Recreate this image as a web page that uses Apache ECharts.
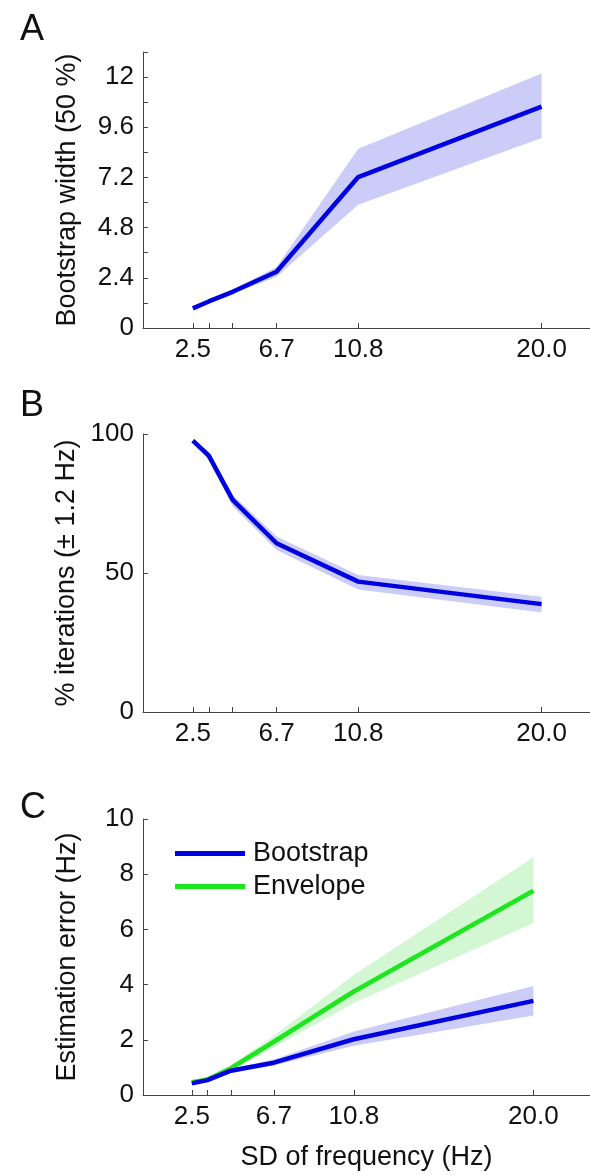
<!DOCTYPE html>
<html>
<head>
<meta charset="utf-8">
<script src="https://cdn.jsdelivr.net/npm/echarts@6/dist/echarts.min.js"></script>
<style>
html,body{margin:0;padding:0;background:#fff;}
#chart{width:590px;height:1175px;}
</style>
</head>
<body>
<div id="chart"></div>
<script>
// ---- data ----
const sdX = [2.5, 3.3, 4.5, 6.7, 10.8, 20.0];
const xTickValues = [2.5, 3.3, 4.5, 6.7, 10.8, 20.0];
const xLabelValues = [2.5, 6.7, 10.8, 20.0];

const yTicksA = [0, 2.4, 4.8, 7.2, 9.6, 12];
const widthMean = [0.94, 1.27, 1.73, 2.69, 7.22, 10.59];
const widthLow  = [0.86, 1.18, 1.63, 2.45, 5.90, 9.09];
const widthHigh = [1.02, 1.36, 1.83, 2.92, 8.57, 12.17];

const itersMean = [97.6, 92.2, 76.3, 60.7, 46.9, 38.8];
const itersLow  = [96.8, 90.8, 73.9, 58.3, 44.1, 35.8];
const itersHigh = [98.4, 93.6, 78.1, 63.1, 49.3, 41.5];

const bootMean = [0.42, 0.54, 0.88, 1.17, 2.02, 3.41];
const bootLow  = [0.36, 0.48, 0.80, 1.07, 1.78, 2.88];
const bootHigh = [0.48, 0.60, 0.96, 1.29, 2.30, 3.95];

const envMean = [0.46, 0.56, 0.97, 1.93, 3.75, 7.40];
const envLow  = [0.42, 0.50, 0.88, 1.72, 3.33, 6.23];
const envHigh = [0.52, 0.62, 1.06, 2.15, 4.35, 8.61];

const BLUE = '#0000e0', BLUE_BAND = '#ccccf8';
const GREEN = '#1ee61e', GREEN_BAND = '#d2f7d2';
const FONT = 'Liberation Sans, Arial, sans-serif';
const AX = '#444';

function pairs(ys){ return sdX.map((x,i)=>[x, ys[i]]); }

function band(idx, lo, hi, color, key){
  return {
    type:'custom', name:key, xAxisIndex:idx, yAxisIndex:idx, silent:true, z:2,
    data: sdX.map((x,i)=>[x, lo[i], hi[i]]),
    encode:{x:0, y:[1,2]},
    renderItem: function(params, api){
      if (params.dataIndex !== 0) return null;
      const pts = [];
      for (let i=0;i<sdX.length;i++) pts.push(api.coord([sdX[i], hi[i]]));
      for (let i=sdX.length-1;i>=0;i--) pts.push(api.coord([sdX[i], lo[i]]));
      return {type:'polygon', shape:{points:pts}, style:{fill:color, stroke:null}};
    }
  };
}
function mainLine(idx, ys, color, name){
  return {type:'line', name:name, xAxisIndex:idx, yAxisIndex:idx, data:pairs(ys), symbol:'none',
          color:color, lineStyle:{color:color, width:4.5}, z:5};
}

function xAxis(idx, max, name){
  return {
    type:'value', gridIndex:idx, min:0, max:max,
    axisLine:{show:true, lineStyle:{color:AX, width:1}},
    axisTick:{show:true, inside:true, length:5, customValues:xTickValues, lineStyle:{color:AX}},
    axisLabel:{customValues:xLabelValues, formatter:v=>v.toFixed(1), fontSize:26, fontFamily:FONT, color:'#111', margin:9},
    splitLine:{show:false},
    name:name||'', nameLocation:'middle', nameGap:49,
    nameTextStyle:{fontSize:27, fontFamily:FONT, color:'#111'}
  };
}
function yAxis(idx, min, max, interval, name, labelValues, fmt){
  const a = {
    type:'value', gridIndex:idx, min:min, max:max, interval:interval,
    axisLine:{show:true, lineStyle:{color:AX, width:1}},
    axisTick:{show:true, inside:true, length:5, lineStyle:{color:AX}},
    axisLabel:{fontSize:26, fontFamily:FONT, color:'#111', margin:9},
    splitLine:{show:false},
    name:name, nameLocation:'middle', nameGap:62,
    nameTextStyle:{fontSize:27, fontFamily:FONT, color:'#111'}
  };
  if (labelValues) a.axisLabel.customValues = labelValues;
  if (fmt) a.axisLabel.formatter = fmt;
  return a;
}

const option = {
  animation:false,
  backgroundColor:'#fff',
  title:[
    {text:'A', left:15, top:7, textStyle:{fontSize:36, fontWeight:'normal', fontFamily:FONT, color:'#111'}},
    {text:'B', left:15, top:383, textStyle:{fontSize:36, fontWeight:'normal', fontFamily:FONT, color:'#111'}},
    {text:'C', left:15, top:785, textStyle:{fontSize:36, fontWeight:'normal', fontFamily:FONT, color:'#111'}}
  ],
  legend:{
    data:['Bootstrap','Envelope'], orient:'vertical', left:170, top:835,
    icon:'rect', itemWidth:70, itemHeight:5, itemGap:6,
    textStyle:{fontSize:27, fontFamily:FONT, color:'#111', padding:[0,0,0,3]}
  },
  grid:[
    {left:143, top:52, width:447, height:276},
    {left:143, top:434, width:447, height:278},
    {left:143, top:819, width:447, height:276}
  ],
  xAxis:[
    xAxis(0, 22.43),
    xAxis(1, 22.43),
    xAxis(2, 22.9, 'SD of frequency (Hz)')
  ],
  yAxis:[
    yAxis(0, 0, 13.2, 1.2, 'Bootstrap width (50 %)', yTicksA, v=>String(+v.toFixed(1))),
    yAxis(1, 0, 100, 50, '% iterations (± 1.2 Hz)'),
    yAxis(2, 0, 10, 2, 'Estimation error (Hz)')
  ],
  series:[
    band(0, widthLow, widthHigh, BLUE_BAND, 'wA'),
    mainLine(0, widthMean, BLUE, 'Bootstrap width'),
    band(1, itersLow, itersHigh, BLUE_BAND, 'iB'),
    mainLine(1, itersMean, BLUE, 'Iterations'),
    band(2, envLow, envHigh, GREEN_BAND, 'eC'),
    band(2, bootLow, bootHigh, BLUE_BAND, 'bC'),
    mainLine(2, envMean, GREEN, 'Envelope'),
    mainLine(2, bootMean, BLUE, 'Bootstrap')
  ]
};

const chart = echarts.init(document.getElementById('chart'), null, {renderer:'canvas'});
chart.setOption(option);
</script>
</body>
</html>
